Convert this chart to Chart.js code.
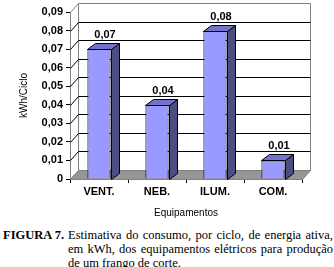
<!DOCTYPE html>
<html>
<head>
<meta charset="utf-8">
<script src="https://cdn.jsdelivr.net/npm/chart.js@4.4.1/dist/chart.umd.min.js"></script>
<style>
  html, body { margin: 0; padding: 0; background: #fff; }
  #wrap { position: relative; width: 334px; height: 267px; overflow: hidden; }
  #box { position: absolute; left: 0; top: 0; width: 334px; height: 222px; }
  #caption {
    position: absolute; left: 3px; top: 228px; width: 330px;
    font-family: "Liberation Serif", "Times New Roman", serif; font-size: 12.5px;
    line-height: 14px; color: #000; display: flex;
  }
  #caption b { width: 65px; flex: none; }
  #caption .txt { width: 265px; white-space: nowrap; }
  #caption .j { text-align: justify; text-align-last: justify; }
</style>
</head>
<body>
<div id="wrap">
  <div id="box"><canvas id="chart"></canvas></div>
  <div id="caption">
    <b>FIGURA 7.</b>
    <div class="txt">
      <div class="j">Estimativa do consumo, por ciclo, de energia ativa,</div>
      <div class="j">em kWh, dos equipamentos elétricos para produção</div>
      <div>de um frango de corte.</div>
    </div>
  </div>
</div>
<script>
// Data
const categories = ['VENT.', 'NEB.', 'ILUM.', 'COM.'];
const consumo = [0.07, 0.04, 0.08, 0.01];
const yMax = 0.09;
const yStep = 0.01;

// Format numbers the Brazilian way (comma as decimal separator)
function fmt(v)
{
    if (Math.abs(v) < 1e-9) return '0';
    return v.toFixed(2).replace('.', ',');
}

// Depth of the fake 3D box and of the bars
const wallDepth = { dx: 8, dy: -9 };
const barDepth = { dx: 8, dy: -6 };

// Back wall, side wall, floor and gridlines drawn behind the bars
const wallPlugin = {
    id: 'walls',
    beforeDatasetsDraw(chart) {
        const ctx = chart.ctx;
        const a = chart.chartArea;
        const yScale = chart.scales.y;
        const dx = wallDepth.dx, dy = wallDepth.dy;
        const L = Math.round(a.left) + 0.5, R = Math.round(a.right) + 0.5;
        const T = Math.round(a.top) + 0.5, B = Math.round(a.bottom) + 0.5;
        ctx.save();
        ctx.lineWidth = 1;

        // side wall
        ctx.fillStyle = '#ffffff';
        ctx.strokeStyle = '#808080';
        ctx.beginPath();
        ctx.moveTo(L, B); ctx.lineTo(L, T); ctx.lineTo(L + dx, T + dy); ctx.lineTo(L + dx, B + dy);
        ctx.closePath(); ctx.fill(); ctx.stroke();

        // back wall
        ctx.beginPath();
        ctx.rect(L + dx, T + dy, R - L, B - T);
        ctx.fill(); ctx.stroke();

        // floor
        ctx.fillStyle = '#969696';
        ctx.beginPath();
        ctx.moveTo(L, B); ctx.lineTo(R, B); ctx.lineTo(R + dx, B + dy); ctx.lineTo(L + dx, B + dy);
        ctx.closePath(); ctx.fill(); ctx.stroke();

        // gridlines on side and back walls
        ctx.strokeStyle = '#000000';
        yScale.ticks.forEach((t) => {
            if (t.value <= 0 || t.value >= yMax - 1e-9) return;
            const y = Math.round(yScale.getPixelForValue(t.value)) + 0.5;
            ctx.beginPath();
            ctx.moveTo(L, y); ctx.lineTo(L + dx, y + dy); ctx.lineTo(R + dx, y + dy);
            ctx.stroke();
        });
        ctx.restore();
    }
};

// Top and side faces of each bar plus the value labels
const barPlugin = {
    id: 'bars3d',
    afterDatasetsDraw(chart) {
        const ctx = chart.ctx;
        const meta = chart.getDatasetMeta(0);
        const dx = barDepth.dx, dy = barDepth.dy;
        ctx.save();
        ctx.lineWidth = 1;
        ctx.strokeStyle = '#000000';
        meta.data.forEach((bar, i) => {
            const l = Math.round(bar.x - bar.width / 2) + 0.5;
            const r = Math.round(bar.x + bar.width / 2) + 0.5;
            const t = Math.round(bar.y) + 0.5;
            const b = Math.round(bar.base) + 0.5;

            // side
            ctx.fillStyle = '#4d4d85';
            ctx.beginPath();
            ctx.moveTo(r, t); ctx.lineTo(r + dx, t + dy); ctx.lineTo(r + dx, b + dy); ctx.lineTo(r, b);
            ctx.closePath(); ctx.fill(); ctx.stroke();

            // top
            ctx.fillStyle = '#7373cc';
            ctx.beginPath();
            ctx.moveTo(l, t); ctx.lineTo(l + dx, t + dy); ctx.lineTo(r + dx, t + dy); ctx.lineTo(r, t);
            ctx.closePath(); ctx.fill(); ctx.stroke();

            // value label
            ctx.fillStyle = '#000000';
            ctx.font = 'bold 11px Arial, "Liberation Sans", sans-serif';
            ctx.textAlign = 'center';
            ctx.textBaseline = 'bottom';
            ctx.fillText(fmt(consumo[i]), bar.x + dx / 2 + 2, t + dy - 3);
        });
        ctx.restore();
    }
};

const ctx = document.getElementById('chart').getContext('2d');
const chart = new Chart(ctx, {
    type: 'bar',
    data: {
        labels: categories,
        datasets: [{
            data: consumo,
            backgroundColor: '#9999ff',
            borderColor: '#000000',
            borderWidth: 1,
            categoryPercentage: 1,
            barPercentage: 0.4,
        }],
    },
    options: {
        responsive: true,
        maintainAspectRatio: false,
        animation: false,
        layout: { padding: { top: 12, right: 32, left: 0, bottom: 0 } },
        plugins: {
            legend: { display: false },
            tooltip: { enabled: false },
        },
        scales: {
            x: {
                afterFit(scale) { scale.height = 43; },
                grid: { drawOnChartArea: false, drawTicks: true, tickLength: 4, color: '#000000', offset: true },
                border: { display: true, color: '#000000' },
                ticks: {
                    color: '#000000', padding: 2,
                    font: { family: 'Arial, "Liberation Sans", sans-serif', size: 11, weight: 'bold' },
                },
                title: {
                    display: true, text: 'Equipamentos', color: '#000000',
                    padding: { top: 0, bottom: 3 },
                    font: { family: 'Arial, "Liberation Sans", sans-serif', size: 10 },
                },
            },
            y: {
                min: 0,
                max: yMax,
                afterFit(scale) { scale.width = 70; },
                grid: { drawOnChartArea: false, drawTicks: true, tickLength: 4, color: '#000000' },
                border: { display: true, color: '#000000' },
                ticks: {
                    stepSize: yStep, color: '#000000', padding: 3,
                    callback: (v) => fmt(v),
                    font: { family: 'Arial, "Liberation Sans", sans-serif', size: 11, weight: 'bold' },
                },
                title: {
                    display: true, text: 'kWh/Ciclo', color: '#000000',
                    padding: { top: 18, bottom: 0 },
                    font: { family: 'Arial, "Liberation Sans", sans-serif', size: 10 },
                },
            },
        },
    },
    plugins: [wallPlugin, barPlugin],
});
</script>
</body>
</html>
